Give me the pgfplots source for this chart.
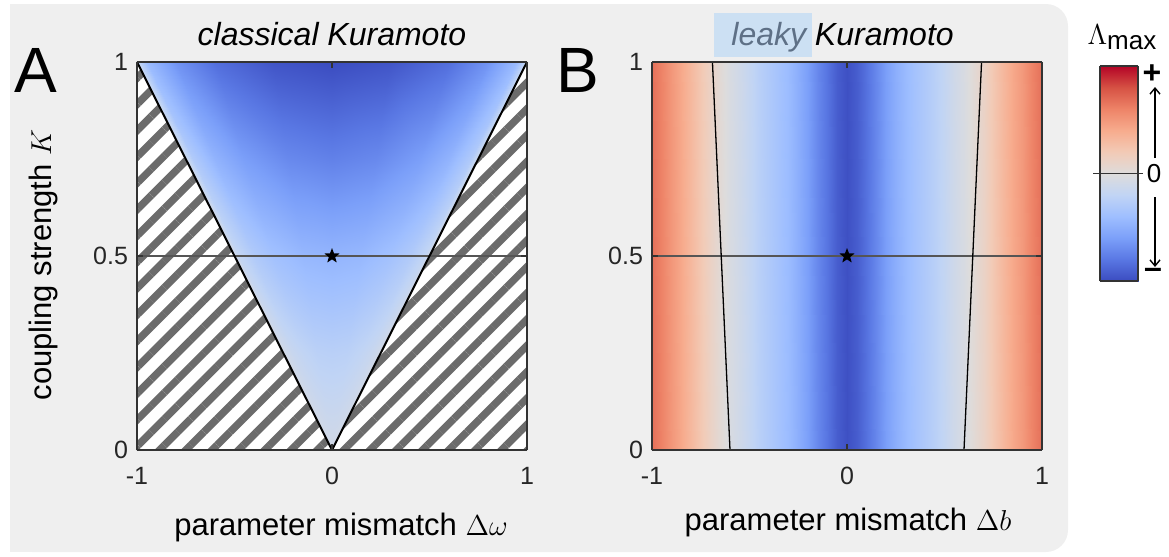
\documentclass[border=0pt]{standalone}
\usepackage{fontspec}
\setmainfont{Liberation Sans}
\usepackage{pgfplots}
\usepackage{pgfplotstable}
\pgfplotsset{compat=1.18}
\usetikzlibrary{patterns.meta,arrows.meta}

\definecolor{bgc}{HTML}{EFEFEF}
\definecolor{hatch}{HTML}{6B6B6B}
\definecolor{framec}{HTML}{333333}
\definecolor{refline}{HTML}{555555}
\definecolor{leakybox}{HTML}{CCE0F3}
\definecolor{leakytext}{HTML}{5E7086}

% diverging blue-white-red map for the largest Lyapunov exponent
\pgfplotsset{
  colormap={coolwarm}{
    rgb255=(59,76,192) rgb255=(89,119,227) rgb255=(123,159,249)
    rgb255=(158,190,255) rgb255=(192,212,245) rgb255=(221,220,220)
    rgb255=(242,203,183) rgb255=(247,172,142) rgb255=(238,132,104)
    rgb255=(214,82,68) rgb255=(180,4,38)},
}

% filled five-pointed star marker
\pgfdeclareplotmark{fstar}{%
  \pgfpathmoveto{\pgfpointpolar{90}{\pgfplotmarksize}}%
  \pgfpathlineto{\pgfpointpolar{126}{0.42\pgfplotmarksize}}%
  \pgfpathlineto{\pgfpointpolar{162}{\pgfplotmarksize}}%
  \pgfpathlineto{\pgfpointpolar{198}{0.42\pgfplotmarksize}}%
  \pgfpathlineto{\pgfpointpolar{234}{\pgfplotmarksize}}%
  \pgfpathlineto{\pgfpointpolar{270}{0.42\pgfplotmarksize}}%
  \pgfpathlineto{\pgfpointpolar{306}{\pgfplotmarksize}}%
  \pgfpathlineto{\pgfpointpolar{342}{0.42\pgfplotmarksize}}%
  \pgfpathlineto{\pgfpointpolar{18}{\pgfplotmarksize}}%
  \pgfpathlineto{\pgfpointpolar{54}{0.42\pgfplotmarksize}}%
  \pgfpathclose\pgfusepathqfill}

% Lambda_max in the synchronised region of the classical model (x, K, 0, meta)
% 5 rows of constant K, 11 points each
\pgfplotstableread{
x y z m
0 0 0 -0.08
0 0 0 -0.08
0 0 0 -0.08
0 0 0 -0.08
0 0 0 -0.08
0 0 0 -0.08
0 0 0 -0.08
0 0 0 -0.08
0 0 0 -0.08
0 0 0 -0.08
0 0 0 -0.08
-0.25 0.25 0 -0.04
-0.2375 0.25 0 -0.10
-0.2 0.25 0 -0.15
-0.15 0.25 0 -0.19
-0.075 0.25 0 -0.23
0 0.25 0 -0.24
0.075 0.25 0 -0.23
0.15 0.25 0 -0.19
0.2 0.25 0 -0.15
0.2375 0.25 0 -0.10
0.25 0.25 0 -0.04
-0.5 0.5 0 -0.07
-0.475 0.5 0 -0.18
-0.4 0.5 0 -0.29
-0.3 0.5 0 -0.37
-0.15 0.5 0 -0.44
0 0.5 0 -0.46
0.15 0.5 0 -0.44
0.3 0.5 0 -0.37
0.4 0.5 0 -0.29
0.475 0.5 0 -0.18
0.5 0.5 0 -0.07
-0.75 0.75 0 -0.11
-0.7125 0.75 0 -0.29
-0.6 0.75 0 -0.47
-0.45 0.75 0 -0.60
-0.225 0.75 0 -0.71
0 0.75 0 -0.75
0.225 0.75 0 -0.71
0.45 0.75 0 -0.60
0.6 0.75 0 -0.47
0.7125 0.75 0 -0.29
0.75 0.75 0 -0.11
-1 1 0 -0.15
-0.95 1 0 -0.42
-0.8 1 0 -0.66
-0.6 1 0 -0.84
-0.3 1 0 -0.96
0 1 0 -1.00
0.3 1 0 -0.96
0.6 1 0 -0.84
0.8 1 0 -0.66
0.95 1 0 -0.42
1 1 0 -0.15
}\classical

% Lambda_max of the leaky model across the mismatch (x, K, 0, meta)
% 2 rows of constant K, 41 points each
\pgfplotstableread{
x y z m
-1 0 0 0.68
-0.95 0 0 0.60
-0.9 0 0 0.50
-0.85 0 0 0.42
-0.8 0 0 0.32
-0.75 0 0 0.22
-0.7 0 0 0.12
-0.65 0 0 0.04
-0.6 0 0 -0.04
-0.55 0 0 -0.10
-0.5 0 0 -0.17
-0.45 0 0 -0.24
-0.4 0 0 -0.30
-0.35 0 0 -0.36
-0.3 0 0 -0.42
-0.25 0 0 -0.50
-0.2 0 0 -0.60
-0.15 0 0 -0.72
-0.1 0 0 -0.82
-0.05 0 0 -0.92
0 0 0 -0.98
0.05 0 0 -0.92
0.1 0 0 -0.82
0.15 0 0 -0.72
0.2 0 0 -0.60
0.25 0 0 -0.50
0.3 0 0 -0.42
0.35 0 0 -0.36
0.4 0 0 -0.30
0.45 0 0 -0.24
0.5 0 0 -0.17
0.55 0 0 -0.10
0.6 0 0 -0.04
0.65 0 0 0.04
0.7 0 0 0.12
0.75 0 0 0.22
0.8 0 0 0.32
0.85 0 0 0.42
0.9 0 0 0.50
0.95 0 0 0.60
1 0 0 0.68
-1 1 0 0.68
-0.95 1 0 0.60
-0.9 1 0 0.50
-0.85 1 0 0.42
-0.8 1 0 0.32
-0.75 1 0 0.22
-0.7 1 0 0.12
-0.65 1 0 0.04
-0.6 1 0 -0.04
-0.55 1 0 -0.10
-0.5 1 0 -0.17
-0.45 1 0 -0.24
-0.4 1 0 -0.30
-0.35 1 0 -0.36
-0.3 1 0 -0.42
-0.25 1 0 -0.50
-0.2 1 0 -0.60
-0.15 1 0 -0.72
-0.1 1 0 -0.82
-0.05 1 0 -0.92
0 1 0 -0.98
0.05 1 0 -0.92
0.1 1 0 -0.82
0.15 1 0 -0.72
0.2 1 0 -0.60
0.25 1 0 -0.50
0.3 1 0 -0.42
0.35 1 0 -0.36
0.4 1 0 -0.30
0.45 1 0 -0.24
0.5 1 0 -0.17
0.55 1 0 -0.10
0.6 1 0 -0.04
0.65 1 0 0.04
0.7 1 0 0.12
0.75 1 0 0.22
0.8 1 0 0.32
0.85 1 0 0.42
0.9 1 0 0.50
0.95 1 0 0.60
1 1 0 0.68
}\leaky

% colour bar samples (x, level, 0, meta)
\pgfplotstableread{
x y z m
0 -1 0 -1
1 -1 0 -1
0 0 0 0
1 0 0 0
0 1 0 1
1 1 0 1
}\cbar

\pgfplotsset{
  panel/.style={
    anchor=south west, width=195pt, height=194pt, scale only axis,
    view={0}{90},
    xmin=-1, xmax=1, ymin=0, ymax=1,
    xtick={-1,0,1}, xticklabels={-1,0,1},
    ytick={0,0.5,1}, yticklabels={0,0.5,1},
    ztick=\empty,
    tick label style={font=\fontsize{12.5}{14}\selectfont, text=black!85},
    xticklabel style={yshift=-5pt},
    yticklabel style={xshift=-1pt},
    major tick length=3pt,
    tick style={framec, line width=0.8pt},
    axis line style={framec, line width=1pt},
    colormap name=coolwarm, point meta min=-1, point meta max=1,
    axis on top,
  },
  hatched/.style={draw=none, fill=white,
    postaction={pattern={Lines[angle=45,distance=9.3pt,line width=3.7pt]}, pattern color=hatch}},
}

\begin{document}
\begin{tikzpicture}
\begin{scope}[x=0.5pt, y=-0.5pt]
  \useasboundingbox (0,0) rectangle (1169,557);
  \fill[bgc, rounded corners=11pt] (10,4) rectangle (1068,552);
  \fill[bgc] (10,4) rectangle (200,552);
  \coordinate (A0) at (137,450);
  \coordinate (B0) at (652,450);
  \coordinate (C0) at (1100,281);
\end{scope}

% ---- A: classical Kuramoto ----
\begin{axis}[panel, at={(A0)}]
  \addplot3[surf, shader=interp, mesh/cols=11, point meta=\thisrow{m}] table {\classical};
  \addplot[hatched] coordinates {(-1,1) (0,0) (-1,0)} -- cycle;
  \addplot[hatched] coordinates {(1,1) (0,0) (1,0)} -- cycle;
  \addplot[refline, line width=0.6pt] coordinates {(-1,0.5) (1,0.5)};
  \addplot[black, line width=1pt] coordinates {(-1,1) (0,0) (1,1)};
  \addplot[only marks, mark=fstar, mark size=4pt, black] coordinates {(0,0.5)};
\end{axis}

% ---- B: leaky Kuramoto ----
\begin{axis}[panel, at={(B0)}]
  \addplot3[surf, shader=interp, mesh/cols=41, point meta=\thisrow{m}] table {\leaky};
  \addplot[refline, line width=0.6pt] coordinates {(-1,0.5) (1,0.5)};
  \addplot[black, line width=0.65pt] coordinates {(-0.69,1) (-0.60,0)};
  \addplot[black, line width=0.65pt] coordinates {(0.69,1) (0.60,0)};
  \addplot[only marks, mark=fstar, mark size=4pt, black] coordinates {(0,0.5)};
\end{axis}

% ---- colour bar ----
\begin{axis}[at={(C0)}, anchor=south west, width=19pt, height=107.5pt,
    scale only axis, view={0}{90}, xmin=0, xmax=1, ymin=-1, ymax=1,
    ticks=none, axis line style={framec, line width=0.8pt},
    colormap name=coolwarm, point meta min=-1, point meta max=1,
    clip=false, axis on top]
  \addplot3[surf, shader=interp, mesh/cols=2, point meta=\thisrow{m}] table {\cbar};
  \addplot[framec, line width=0.6pt] coordinates {(-0.18,0) (1.12,0)};
\end{axis}

\begin{scope}[x=0.5pt, y=-0.5pt]
  \node[font=\fontsize{32}{34}\selectfont] at (36,70) {A};
  \node[font=\fontsize{32}{34}\selectfont] at (578,70) {B};
  \node[font=\fontsize{16}{18}\selectfont\itshape, anchor=base] at (332,46) {classical Kuramoto};
  \fill[leakybox] (714,13) rectangle (812,57);
  \node[font=\fontsize{16}{18}\selectfont\itshape, anchor=base west, inner sep=0pt] at (731,46)
    {\textcolor{leakytext}{leaky} Kuramoto};
  \node[font=\fontsize{15.5}{18}\selectfont, anchor=base] at (341,535) {parameter mismatch $\Delta\omega$};
  \node[font=\fontsize{15.5}{18}\selectfont, anchor=base] at (848,530) {parameter mismatch $\Delta b$};
  \node[font=\fontsize{15.5}{18}\selectfont, anchor=base, rotate=90] at (51,265) {coupling strength $K$};
  \node[anchor=base] at (1122,45) {\fontsize{15}{17}\selectfont$\Lambda$\fontsize{13}{15}\selectfont\raisebox{-0.35ex}{max}};
  \node[font=\bfseries\fontsize{16}{18}\selectfont] at (1152,74) {+};
  \node[font=\fontsize{13}{15}\selectfont] at (1154,174) {0};
  \node[font=\bfseries\fontsize{16}{18}\selectfont] at (1153,273) {\textendash};
  \draw[line width=0.7pt, -{Straight Barb[length=3pt,width=5pt]}] (1155,158) -- (1155,87);
  \draw[line width=0.7pt, -{Straight Barb[length=3pt,width=5pt]}] (1155,197) -- (1155,267);
\end{scope}
\end{tikzpicture}
\end{document}
